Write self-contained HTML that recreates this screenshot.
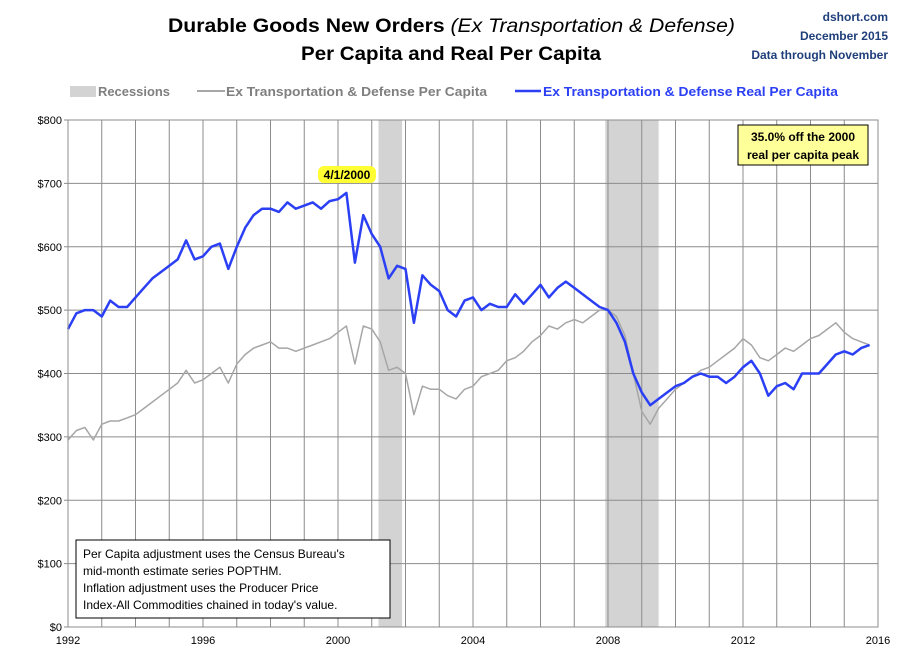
<!DOCTYPE html>
<html><head><meta charset="utf-8"><style>
body{margin:0;background:#fff;}
svg{display:block;font-family:"Liberation Sans",sans-serif;}
</style></head><body>
<svg id="chart" width="908" height="660" viewBox="0 0 908 660">
<rect x="0" y="0" width="908" height="660" fill="#fff"/>
<text x="168" y="32" font-size="19" font-weight="bold" textLength="567" lengthAdjust="spacingAndGlyphs"><tspan>Durable Goods New Orders </tspan><tspan font-style="italic" font-weight="normal">(Ex Transportation &amp; Defense)</tspan></text>
<text x="301" y="60" font-size="19" font-weight="bold" textLength="300" lengthAdjust="spacingAndGlyphs">Per Capita and Real Per Capita</text>
<text x="888" y="21" font-size="12" font-weight="bold" fill="#1f3f7a" text-anchor="end">dshort.com</text>
<text x="888" y="40" font-size="12" font-weight="bold" fill="#1f3f7a" text-anchor="end">December 2015</text>
<text x="888" y="59" font-size="12" font-weight="bold" fill="#1f3f7a" text-anchor="end">Data through November</text>
<g>
<rect x="70" y="86" width="26" height="11" fill="#d3d3d3"/>
<text x="98" y="96" font-size="13" font-weight="bold" fill="#7f7f7f" textLength="72" lengthAdjust="spacingAndGlyphs">Recessions</text>
<line x1="197" y1="91" x2="225" y2="91" stroke="#a6a6a6" stroke-width="2"/>
<text x="226" y="96" font-size="13" font-weight="bold" fill="#7f7f7f" textLength="261" lengthAdjust="spacingAndGlyphs">Ex Transportation &amp; Defense Per Capita</text>
<line x1="515" y1="91" x2="541" y2="91" stroke="#2b3ff5" stroke-width="2.5"/>
<text x="543" y="96" font-size="13" font-weight="bold" fill="#2b3ff5" textLength="295" lengthAdjust="spacingAndGlyphs">Ex Transportation &amp; Defense Real Per Capita</text>
</g>
<g id="plot"></g>
</svg>
<script>
const yTicks=[0,100,200,300,400,500,600,700,800];
const yTickLabels=["$0","$100","$200","$300","$400","$500","$600","$700","$800"];
const xTickLabels=["1992","1996","2000","2004","2008","2012","2016"];
const recessions=[[2001.2,2001.9],[2007.92,2009.5]];
const quarters=[];
for(let y=1992;y<2016;y++)for(let q=0;q<4;q++)quarters.push(y+q*0.25);
const realValues=[470,495,500,500, 490,515,505,505, 520,535,550,560, 570,580,610,580, 585,600,605,565,
600,630,650,660, 660,655,670,660, 665,670,660,672, 675,685,575,650, 620,600,550,570,
565,480,555,540, 530,500,490,515, 520,500,510,505, 505,525,510,525, 540,520,535,545,
535,525,515,505, 500,480,450,400, 370,350,360,370, 380,385,395,400, 395,395,385,395,
410,420,400,365, 380,385,375,400, 400,400,415,430, 435,430,440,445];
const nominalValues=[295,310,315,295, 320,325,325,330, 335,345,355,365, 375,385,405,385, 390,400,410,385,
415,430,440,445, 450,440,440,435, 440,445,450,455, 465,475,415,475, 470,450,405,410,
400,335,380,375, 375,365,360,375, 380,395,400,405, 420,425,435,450, 460,475,470,480,
485,480,490,500, 500,490,460,400, 340,320,345,360, 375,385,395,405, 410,420,430,440,
455,445,425,420, 430,440,435,445, 455,460,470,480, 465,455,450,445];
const X0=68,X1=878,Y0=627,Y1=120;
const xs=t=>X0+(t-1992)/24*(X1-X0);
const ys=v=>Y0-v/800*(Y0-Y1);
const NS="http://www.w3.org/2000/svg";
const plot=document.getElementById('plot');
function mk(tag,attrs,parent){const e=document.createElementNS(NS,tag);for(const k in attrs)e.setAttribute(k,attrs[k]);(parent||plot).appendChild(e);return e;}
recessions.forEach(r=>{const e=mk('rect',{x:xs(r[0]),y:Y1,width:xs(r[1])-xs(r[0]),height:Y0-Y1,fill:'#d3d3d3'});

});
for(let y=1992;y<=2016;y++){const e=mk('line',{x1:xs(y),x2:xs(y),y1:Y1,y2:Y0,stroke:'#8c8c8c','stroke-width':1});

}
yTicks.forEach((v,i)=>{const e=mk('line',{x1:X0-4,x2:X1,y1:ys(v),y2:ys(v),stroke:'#8c8c8c','stroke-width':1});


const t=mk('text',{x:X0-6,y:ys(v)+4,'font-size':11,'text-anchor':'end',fill:'#000'});t.textContent=yTickLabels[i];

});
xTickLabels.forEach(l=>{const t=mk('text',{x:xs(+l),y:Y0+17,'font-size':11,'text-anchor':'middle'});t.textContent=l;

});
function line(vals,color,w,name){const d=vals.map((v,i)=>(i?'L':'M')+xs(quarters[i]).toFixed(1)+','+ys(v).toFixed(1)).join('');
const e=mk('path',{d:d,fill:'none',stroke:color,'stroke-width':w,'stroke-linejoin':'round'});

}
line(nominalValues,'#a6a6a6',1.5,'nominal-per-capita-line');
line(realValues,'#2b3ff5',2.5,'real-per-capita-line');
const pk=mk('rect',{x:318,y:166,width:58,height:17,rx:6,fill:'#ffff33'});


const pt=mk('text',{x:347,y:179,'font-size':12,'font-weight':'bold','text-anchor':'middle'});pt.textContent='4/1/2000';


const bx=mk('rect',{x:738,y:125,width:130,height:40,fill:'#ffff99',stroke:'#000','stroke-width':1});


const b1=mk('text',{x:803,y:141,'font-size':12,'font-weight':'bold','text-anchor':'middle'});b1.textContent='35.0% off the 2000';


const b2=mk('text',{x:803,y:159,'font-size':12,'font-weight':'bold','text-anchor':'middle'});b2.textContent='real per capita peak';


const nb=mk('rect',{x:76,y:540,width:314,height:78,fill:'#fff',stroke:'#000','stroke-width':1});


["Per Capita adjustment uses the Census Bureau's","mid-month estimate series POPTHM.","Inflation adjustment uses the Producer Price","Index-All Commodities chained in today's value."].forEach((s,i)=>{
const t=mk('text',{x:83,y:558+i*17,'font-size':12});t.textContent=s;

});
const fr=mk('rect',{x:X0,y:Y1,width:X1-X0,height:Y0-Y1,fill:'none',stroke:'#8c8c8c'});


</script>
</body></html>
